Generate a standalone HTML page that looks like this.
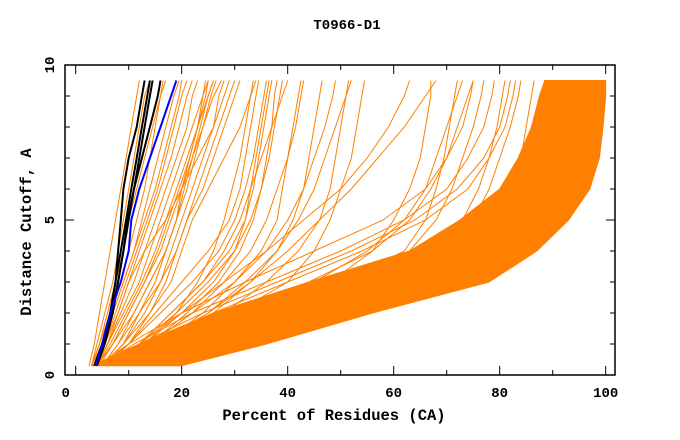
<!DOCTYPE html>
<html><head><meta charset="utf-8"><style>
html,body{margin:0;padding:0;background:#fff;}
svg{display:block;}
text{font-family:"Liberation Mono","DejaVu Sans Mono",monospace;font-weight:bold;fill:#000;}
</style></head><body>
<svg id="chart" width="680" height="440" viewBox="0 0 680 440">
<text x="347" y="29" font-size="14" text-anchor="middle">T0966-D1</text>
<g id="plot"></g>
<rect x="65" y="65" width="550" height="310" fill="none" stroke="#000" stroke-width="1.5"/>
<g id="axes"></g>
<text x="334" y="420" font-size="15.5" text-anchor="middle">Percent of Residues (CA)</text>
<text transform="translate(31,232) rotate(-90)" font-size="15.5" text-anchor="middle">Distance Cutoff, A</text>
</svg>
<script>
const cutoffs = [0.3,1,2,3,4,5,6,7,8,9,9.5];
const bandLower = [20,36,56,78,87,93,97,98.8,99.5,100,100];
const bandUpper = [3,12,26,44,63,72.5,80,83.5,86,87.5,88.5];
const orangeCurves = [
 [2.5,3.5,4.5,5.5,6.5,7.5,8.5,9.5,10.5,11.5,12],
 [3,4,5.5,7,8,9,10,11,12,13,14],
 [3,4.5,6,7.5,9,10,11.5,13,14.5,16,17],
 [3.5,5,7,9,11,12.5,14,15.5,17,18.5,19.5],
 [3.5,5.5,8,10,12,14,16,18,19.5,21,22],
 [4,6,9,12,14,16,18,20,22,24,25],
 [4,7,10,13,16,18,20,22,24,26,27.5],
 [4,6,8,10,13,17,20,23,26,28,29],
 [5,8,12,16,19,21,23,25,27,29,30],
 [3,5,7,9,11,13,15,16.5,18,19.5,20],
 [4,6.5,9.5,12.5,15,17,19,21,23,25,26],
 [3,4.5,6.5,8.5,10,11.5,13,14,15,16,16.5],
 [3.5,5.5,7.5,9.5,11.5,13.5,15.5,17,18.5,20,21],
 [4,6,8.5,11,13,15,17,19,21,22,23],
 [4.5,7,10,13,15.5,17.5,19.5,21.5,23,24.5,25],
 [5,8,11,14,17,19,21,22.5,24,25.5,26.5],
 [5,9,13,16,18,20,22,24,26,27,28],
 [6,10,14,17,19,21,24,26,28,30,31],
 [5,9,12,15,17,19,20,21.5,23,24,24.5],
 [4,7,11,14,17,19,20.5,22,23.5,25,26],
 [5,10,16,22,27,30,32,33.5,34.5,35.5,36],
 [6,12,18,24,29,32,33.5,34.5,35.5,36.5,37],
 [6,14,22,28,33,36,38,40,41.5,42.5,43],
 [8,16,24,30,35,38,39,40,41,42,42.5],
 [5,9,14,18,20,22,25,28,31,33,34],
 [7,15,25,32,38,42,45,47,49,51,52],
 [8,18,30,40,45,48,50,52,53,54,54.5],
 [6,13,20,26,30,32,33,34,35,36,36.5],
 [7,14,21,27,31,33.5,35,36,37,37.5,38],
 [6,12,19,25,30,33,35,36.5,37.5,38.5,39],
 [8,17,26,33,38,41,43,44,45,46,46.5],
 [9,18,28,36,42,46,48,49,50,51,51.5],
 [7,13,19,23,26,28,29.5,31,32,33,33.5],
 [10,22,40,55,63,68,71,73,75,76.5,77],
 [6,16,30,45,55,62,66,68,70,72,73],
 [8,20,35,48,56,60,63,65,66,67,67],
 [6,15,25,33,40,46,52,57,62,66,68],
 [5,12,20,28,36,43,50,55,59,62,63],
 [7,14,22,30,36,40,43,45,47,48.5,49],
 [6,12,18,24,28,31,33,35,37,39,40],
 [5,10,15,20,25,29,31,32,33,34,34.5],
 [9,18,30,44,56,63,67,70,72,74,75],
 [10,20,34,50,62,66,68,69.5,70.5,71.5,72],
 [10,22,40,58,68,73,76,78,79.5,80.5,81],
 [12,28,48,62,70,75,78,80,82,83.5,84],
 [12,26,46,64,74,79,82,84,85,86,86.5],
 [14,32,52,72,82,88,91,92.5,93.5,94,94.5],
 [6,16,34,52,68,78,84,86,88,89,89.5],
 [8,20,38,58,72,80,86,89,91,92,92.5],
 [10,26,46,66,78,85,89,91,92.5,93,93.5],
 [14,30,50,70,80,87,92,95,96.5,97,97],
 [4,10,20,32,45,58,66,70,73,74.5,75],
 [5,11,22,36,50,62,70,74,77,78.5,79],
 [7,14,26,40,54,66,74,78,81,82.5,83],
 [5,12,24,38,52,64,72,77,80,81.5,82]
];
const blackCurves = [
 [3.5,5,6.5,7.5,8.5,9.5,10.5,11.5,12.5,13.5,14],
 [4,5.5,7,8,9,10,11,12,13,14,14.5],
 [3.5,5,6.5,7.5,8,8.5,9,10,11.5,12.5,13],
 [3.8,5.2,6.8,8,9,9.8,11,12.5,14,15.5,16]
];
const blueCurve = [3.8,5,6.5,8.5,10,10.5,12,14,16,18,19];
const xTicks = [0,20,40,60,80,100];
const yTicks = [0,5,10];

const NS='http://www.w3.org/2000/svg';
function xs(v){return 75.7+v*5.3;}
function ys(v){return 375-v*31;}
const plot=document.getElementById('plot');
const axes=document.getElementById('axes');
function mk(tag,attrs,parent){const e=document.createElementNS(NS,tag);for(const k in attrs)e.setAttribute(k,attrs[k]);parent.appendChild(e);return e;}
function pts(arr){return arr.map((v,i)=>xs(v).toFixed(1)+','+ys(cutoffs[i]).toFixed(1)).join(' ');}

let bandPts=bandLower.map((v,i)=>xs(v)+','+ys(cutoffs[i]));
for(let i=bandUpper.length-1;i>=0;i--)bandPts.push(xs(bandUpper[i])+','+ys(cutoffs[i]));
const band=mk('polygon',{points:bandPts.join(' '),fill:'#ff8000',stroke:'#ff8000','stroke-width':1,'stroke-linejoin':'round'},plot);



orangeCurves.forEach(c=>{
 const p=mk('polyline',{points:pts(c),fill:'none',stroke:'#ff8000','stroke-width':1},plot);
 
 
});
blackCurves.forEach(c=>{
 const p=mk('polyline',{points:pts(c),fill:'none',stroke:'#000','stroke-width':2},plot);
 
 
});
const bl=mk('polyline',{points:pts(blueCurve),fill:'none',stroke:'#0000ff','stroke-width':2},plot);



for(let v=0;v<=100;v+=10){
 const len=(v%20===0)?9:5;
 const t1=mk('line',{x1:xs(v),x2:xs(v),y1:375,y2:375-len,stroke:'#000'},axes);
 
 
 const t2=mk('line',{x1:xs(v),x2:xs(v),y1:65,y2:65+len,stroke:'#000'},axes);
 
 
}
xTicks.forEach(v=>{
 const t=mk('text',{x:xs(v)+(v===0?-10:0),y:397,'font-size':14,'text-anchor':'middle'},axes);
 t.textContent=v;
 
 
});
for(let v=0;v<=10;v++){
 const len=(v%5===0)?9:5;
 const t1=mk('line',{x1:65,x2:65+len,y1:ys(v),y2:ys(v),stroke:'#000'},axes);
 
 
 const t2=mk('line',{x1:615,x2:615-len,y1:ys(v),y2:ys(v),stroke:'#000'},axes);
 
 
}
yTicks.forEach(v=>{
 const t=mk('text',{transform:'translate(54,'+ys(v)+') rotate(-90)','font-size':14,'text-anchor':'middle'},axes);
 t.textContent=v;
 
 
});
</script>
</body></html>
